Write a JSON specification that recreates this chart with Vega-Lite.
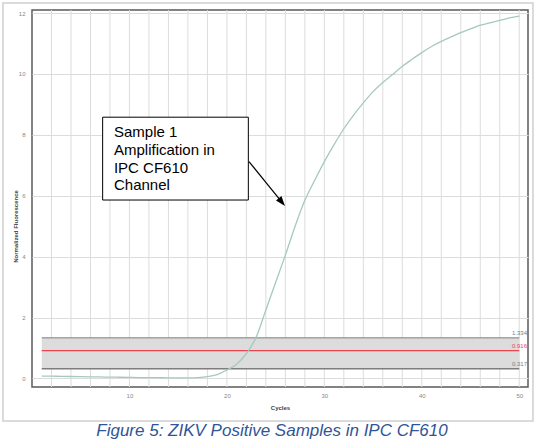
{
  "$schema": "https://vega.github.io/schema/vega-lite/v6.json",
  "description": "ZIKV positive sample amplification curve in the IPC CF610 channel",
  "width": 496,
  "height": 377,
  "autosize": {"type": "none"},
  "padding": {"left": 32, "top": 10, "right": 15, "bottom": 57},
  "background": "white",
  "title": {
    "text": "Figure 5: ZIKV Positive Samples in IPC CF610",
    "orient": "bottom",
    "anchor": "middle",
    "offset": 1,
    "dx": -8,
    "font": "Liberation Sans",
    "fontSize": 17,
    "fontStyle": "italic",
    "fontWeight": "normal",
    "color": "#2f5597"
  },
  "config": {
    "view": {"stroke": "#5a5a5a", "strokeWidth": 1.5},
    "axis": {
      "gridColor": "#dcdcdc",
      "gridWidth": 1,
      "ticks": false,
      "domain": false,
      "labelOverlap": false,
      "labelFont": "Liberation Sans",
      "labelFontSize": 6,
      "labelColor": "#888",
      "titleFont": "Liberation Sans",
      "titleFontSize": 6,
      "titleColor": "#444"
    }
  },
  "datasets": {
    "curve": [
      {"cycle": 1, "fluor": 0.08}, {"cycle": 2, "fluor": 0.075}, {"cycle": 3, "fluor": 0.07},
      {"cycle": 4, "fluor": 0.065}, {"cycle": 5, "fluor": 0.06}, {"cycle": 6, "fluor": 0.055},
      {"cycle": 7, "fluor": 0.05}, {"cycle": 8, "fluor": 0.045}, {"cycle": 9, "fluor": 0.04},
      {"cycle": 10, "fluor": 0.035}, {"cycle": 11, "fluor": 0.03}, {"cycle": 12, "fluor": 0.03},
      {"cycle": 13, "fluor": 0.025}, {"cycle": 14, "fluor": 0.02}, {"cycle": 15, "fluor": 0.02},
      {"cycle": 16, "fluor": 0.02}, {"cycle": 17, "fluor": 0.03}, {"cycle": 18, "fluor": 0.06},
      {"cycle": 19, "fluor": 0.13}, {"cycle": 20, "fluor": 0.28}, {"cycle": 21, "fluor": 0.47},
      {"cycle": 22, "fluor": 0.82}, {"cycle": 23, "fluor": 1.35}, {"cycle": 24, "fluor": 2.25},
      {"cycle": 25, "fluor": 3.15}, {"cycle": 26, "fluor": 4.05}, {"cycle": 27, "fluor": 5.0},
      {"cycle": 28, "fluor": 5.85}, {"cycle": 29, "fluor": 6.5}, {"cycle": 30, "fluor": 7.12},
      {"cycle": 31, "fluor": 7.68}, {"cycle": 32, "fluor": 8.2}, {"cycle": 33, "fluor": 8.65},
      {"cycle": 34, "fluor": 9.05}, {"cycle": 35, "fluor": 9.42}, {"cycle": 36, "fluor": 9.72},
      {"cycle": 37, "fluor": 9.98}, {"cycle": 38, "fluor": 10.25}, {"cycle": 39, "fluor": 10.48},
      {"cycle": 40, "fluor": 10.7}, {"cycle": 41, "fluor": 10.9}, {"cycle": 42, "fluor": 11.07},
      {"cycle": 43, "fluor": 11.22}, {"cycle": 44, "fluor": 11.36}, {"cycle": 45, "fluor": 11.48},
      {"cycle": 46, "fluor": 11.6}, {"cycle": 47, "fluor": 11.68}, {"cycle": 48, "fluor": 11.76},
      {"cycle": 49, "fluor": 11.84}, {"cycle": 50, "fluor": 11.9}
    ],
    "gridx": [
      {"cycle": 2}, {"cycle": 4}, {"cycle": 6}, {"cycle": 8}, {"cycle": 10},
      {"cycle": 12}, {"cycle": 14}, {"cycle": 16}, {"cycle": 18}, {"cycle": 20},
      {"cycle": 22}, {"cycle": 24}, {"cycle": 26}, {"cycle": 28}, {"cycle": 30},
      {"cycle": 32}, {"cycle": 34}, {"cycle": 36}, {"cycle": 38}, {"cycle": 40},
      {"cycle": 42}, {"cycle": 44}, {"cycle": 46}, {"cycle": 48}, {"cycle": 50}
    ],
    "band": [
      {"start": 1, "end": 50, "lo": 0.317, "hi": 1.334}
    ],
    "levels": [
      {"level": "upper", "value": 1.334, "start": 1, "end": 50},
      {"level": "threshold", "value": 0.916, "start": 1, "end": 50},
      {"level": "lower", "value": 0.317, "start": 1, "end": 50}
    ],
    "note": [
      {"line": 1, "text": "Sample 1", "cycle": 8.41, "fluor": 8.1},
      {"line": 2, "text": "Amplification in", "cycle": 8.41, "fluor": 7.5},
      {"line": 3, "text": "IPC CF610", "cycle": 8.41, "fluor": 6.92},
      {"line": 4, "text": "Channel", "cycle": 8.41, "fluor": 6.35}
    ]
  },
  "layer": [
    {
      "data": {"name": "gridx"},
      "mark": {"type": "rule", "color": "#dcdcdc", "strokeWidth": 1},
      "encoding": {
        "x": {
          "field": "cycle",
          "type": "quantitative",
          "scale": {"domain": [0, 50.9], "nice": false, "zero": false},
          "axis": {
            "values": [10, 20, 30, 40, 50],
            "grid": false,
            "labelOverlap": false,
            "labelFlush": false,
            "labelPadding": 5,
            "title": "Cycles",
            "titlePadding": 6
          }
        }
      }
    },
    {
      "data": {"values": [{}]},
      "mark": {"type": "rect", "fill": null, "stroke": "#cfcfcf", "strokeWidth": 1.5, "clip": false},
      "encoding": {
        "x": {"datum": -2.98, "type": "quantitative"},
        "x2": {"datum": 51.41},
        "y": {"datum": 12.33, "type": "quantitative"},
        "y2": {"datum": -1.4}
      }
    },
    {
      "data": {"name": "band"},
      "mark": {"type": "rect", "fill": "#dcdcdc"},
      "encoding": {
        "x": {"field": "start", "type": "quantitative"},
        "x2": {"field": "end"},
        "y": {
          "field": "lo",
          "type": "quantitative",
          "scale": {"domain": [-0.28, 12.1], "nice": false, "zero": false},
          "axis": {
            "values": [0, 2, 4, 6, 8, 10, 12],
            "grid": true,
            "labelOverlap": false,
            "labelFlush": false,
            "labelPadding": 7,
            "title": "Normalized Fluorescence",
            "titleFontWeight": "bold",
            "titleX": -17,
            "titleY": 216,
            "titleAlign": "center",
            "titleBaseline": "middle"
          }
        },
        "y2": {"field": "hi"}
      }
    },
    {
      "data": {"name": "levels"},
      "mark": {"type": "rule"},
      "encoding": {
        "x": {"field": "start", "type": "quantitative"},
        "x2": {"field": "end"},
        "y": {"field": "value", "type": "quantitative"},
        "color": {
          "field": "level",
          "type": "nominal",
          "scale": {"domain": ["upper", "threshold", "lower"], "range": ["#7d7d7d", "#e8434f", "#7d7d7d"]},
          "legend": null
        },
        "strokeWidth": {
          "field": "level",
          "type": "nominal",
          "scale": {"domain": ["upper", "threshold", "lower"], "range": [1, 1.6, 1]},
          "legend": null
        }
      }
    },
    {
      "data": {"name": "levels"},
      "mark": {"type": "text", "align": "right", "baseline": "bottom", "dx": -1, "dy": -2, "fontSize": 6, "font": "Liberation Sans"},
      "encoding": {
        "x": {"datum": 50.9, "type": "quantitative"},
        "y": {"field": "value", "type": "quantitative"},
        "text": {"field": "value", "type": "quantitative", "format": ".3f"},
        "color": {
          "field": "level",
          "type": "nominal",
          "scale": {"domain": ["upper", "threshold", "lower"], "range": ["#9a9a9a", "#e8434f", "#9a9a9a"]},
          "legend": null
        }
      }
    },
    {
      "data": {"name": "curve"},
      "mark": {"type": "line", "interpolate": "monotone", "color": "#a7c8c1", "strokeWidth": 1.3},
      "encoding": {
        "x": {"field": "cycle", "type": "quantitative"},
        "y": {"field": "fluor", "type": "quantitative"}
      }
    },
    {
      "data": {"values": [{}]},
      "mark": {"type": "rect", "fill": "white", "stroke": "black", "strokeWidth": 1},
      "encoding": {
        "x": {"datum": 7.25, "type": "quantitative"},
        "x2": {"datum": 22.2},
        "y": {"datum": 8.58, "type": "quantitative"},
        "y2": {"datum": 5.86}
      }
    },
    {
      "data": {"name": "note"},
      "mark": {"type": "text", "align": "left", "baseline": "middle", "font": "Liberation Sans", "fontSize": 15, "color": "black"},
      "encoding": {
        "x": {"field": "cycle", "type": "quantitative"},
        "y": {"field": "fluor", "type": "quantitative"},
        "text": {"field": "text"}
      }
    },
    {
      "data": {"values": [{}]},
      "mark": {"type": "rule", "color": "black", "strokeWidth": 1.2},
      "encoding": {
        "x": {"datum": 22.27, "type": "quantitative"},
        "y": {"datum": 7.12, "type": "quantitative"},
        "x2": {"datum": 25.64},
        "y2": {"datum": 5.79}
      }
    },
    {
      "data": {"values": [{}]},
      "mark": {"type": "point", "shape": "M0,-1L0.7,1L-0.7,1Z", "filled": true, "color": "black", "opacity": 1, "size": 100, "angle": 141},
      "encoding": {
        "x": {"datum": 25.64, "type": "quantitative"},
        "y": {"datum": 5.79, "type": "quantitative"}
      }
    }
  ]
}
